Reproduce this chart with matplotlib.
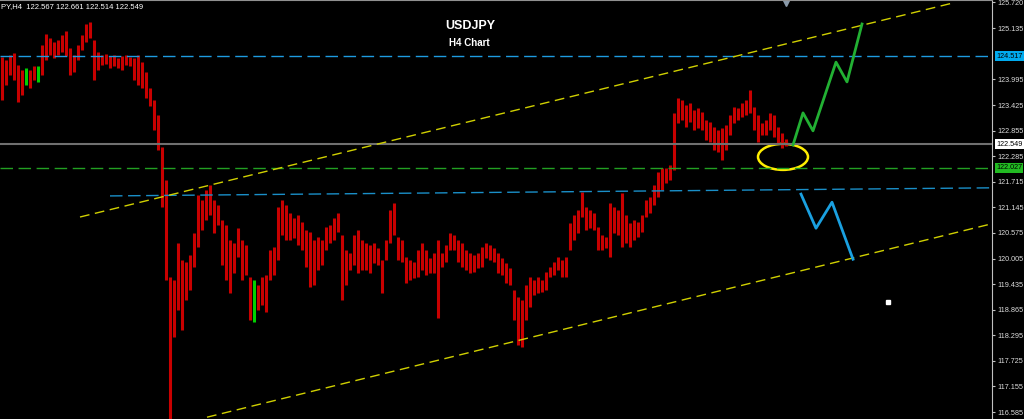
import matplotlib.pyplot as plt
import numpy as np
from matplotlib.patches import Ellipse
import matplotlib.transforms as mtransforms

# H4 bars, highs and lows
highs = [124.49, 124.43, 124.54, 124.58, 124.32, 124.21, 124.25, 124.21, 124.29, 124.29,
         124.76, 125.01, 124.92, 124.83, 124.87, 124.99, 125.07, 124.70, 124.54, 124.76,
         124.99, 125.23, 125.27, 124.87, 124.61, 124.54, 124.56, 124.52, 124.54, 124.47,
         124.52, 124.54, 124.49, 124.47, 124.54, 124.38, 124.16, 123.80, 123.54, 123.20,
         122.49, 121.76, 119.59, 119.53, 120.35, 119.97, 119.93, 120.08, 120.58, 121.42,
         121.31, 121.53, 121.64, 121.31, 121.20, 120.86, 120.75, 120.42, 120.35, 120.68,
         120.42, 120.31, 119.59, 119.53, 119.42, 119.59, 119.64, 120.20, 120.26, 121.15,
         121.31, 121.20, 121.02, 120.91, 120.97, 120.82, 120.64, 120.60, 120.42, 120.48,
         120.42, 120.71, 120.75, 120.91, 121.02, 120.53, 120.20, 120.13, 120.53, 120.64,
         120.42, 120.35, 120.31, 120.35, 120.24, 119.97, 120.42, 121.09, 121.24, 120.48,
         120.42, 120.04, 119.97, 119.93, 120.20, 120.35, 120.20, 120.02, 120.13, 120.42,
         120.13, 120.31, 120.58, 120.53, 120.42, 120.35, 120.20, 120.13, 120.08, 120.13,
         120.26, 120.35, 120.31, 120.24, 120.13, 120.02, 119.91, 119.79, 119.30, 119.15,
         119.08, 119.42, 119.59, 119.53, 119.59, 119.53, 119.71, 119.82, 119.93, 120.04,
         119.97, 120.04, 120.80, 120.97, 121.09, 121.49, 121.15, 121.09, 121.02, 120.71,
         120.53, 120.48, 121.24, 121.15, 121.09, 121.47, 120.97, 120.80, 120.86, 120.82,
         120.97, 121.31, 121.38, 121.64, 121.93, 122.02, 122.02, 122.09, 123.25, 123.58,
         123.54, 123.43, 123.47, 123.32, 123.36, 123.27, 123.09, 123.05, 122.94, 122.87,
         122.91, 122.98, 123.20, 123.38, 123.36, 123.47, 123.54, 123.76, 123.38, 123.20,
         123.02, 123.09, 123.25, 123.20, 122.94, 122.80, 122.661]
lows = [123.54, 123.87, 124.09, 123.98, 123.49, 123.65, 123.87, 123.80, 123.98, 123.94,
        124.09, 124.43, 124.54, 124.47, 124.54, 124.61, 124.52, 124.09, 124.16, 124.43,
        124.65, 124.83, 124.92, 123.98, 124.21, 124.32, 124.34, 124.25, 124.29, 124.25,
        124.21, 124.32, 124.29, 123.98, 123.87, 123.80, 123.58, 123.40, 122.87, 122.42,
        121.15, 119.53, 116.10, 118.26, 118.86, 118.41, 119.08, 119.30, 119.82, 120.26,
        120.64, 120.86, 120.97, 120.58, 120.75, 119.86, 119.53, 119.24, 119.68, 120.04,
        119.53, 119.64, 118.64, 118.59, 118.86, 118.97, 118.81, 119.53, 119.64, 119.97,
        120.53, 120.42, 120.42, 120.46, 120.31, 120.20, 119.82, 119.37, 119.42, 119.75,
        119.86, 120.20, 120.35, 120.42, 120.60, 119.08, 119.42, 119.75, 119.86, 119.68,
        119.75, 119.75, 119.68, 119.91, 119.86, 119.24, 119.97, 120.35, 120.53, 119.97,
        119.93, 119.46, 119.53, 119.57, 119.59, 119.75, 119.64, 119.68, 119.68, 118.68,
        119.82, 119.93, 120.20, 120.20, 119.93, 119.82, 119.75, 119.68, 119.71, 119.79,
        119.82, 120.02, 119.97, 119.93, 119.68, 119.64, 119.46, 119.42, 118.64, 118.08,
        118.03, 118.64, 118.93, 119.19, 119.24, 119.26, 119.30, 119.59, 119.64, 119.75,
        119.59, 119.59, 120.20, 120.42, 120.58, 120.93, 120.64, 120.68, 120.64, 120.20,
        120.20, 120.24, 120.04, 120.58, 120.53, 120.26, 120.35, 120.26, 120.42, 120.48,
        120.60, 120.93, 121.02, 121.20, 121.38, 121.53, 121.69, 121.76, 121.98, 123.02,
        123.09, 122.94, 123.05, 122.87, 122.91, 122.87, 122.65, 122.60, 122.42, 122.38,
        122.20, 122.42, 122.76, 123.02, 123.09, 123.16, 123.20, 123.25, 122.87, 122.60,
        122.76, 122.76, 122.87, 122.71, 122.58, 122.47, 122.514]
green_bars = [6, 9, 63]

last_price = 122.549
resist = 124.517
support = 122.027

# trend lines (bar index, price)
chan_up_x = [19.5, 238.25]
chan_up_y = [120.93, 125.71]
chan_lo_x = [51.25, 247]
chan_lo_y = [116.47, 120.77]
blue_x = [27, 247]
blue_y = [121.40, 121.58]

# projected paths
up_x = [197.75, 200.25, 202.75, 208.5, 211.25, 215]
up_y = [122.535, 123.25, 122.85, 124.38, 123.94, 125.23]
down_x = [199.75, 203.5, 207.5, 212.75]
down_y = [121.44, 120.68, 121.26, 119.99]

ticks = [116.585, 117.155, 117.725, 118.295, 118.865, 119.435, 120.005, 120.575,
         121.145, 121.715, 122.285, 122.855, 123.425, 123.995, 125.135, 125.720]

fnt = 'Liberation Sans'

fig = plt.figure(figsize=(10.24, 4.19), dpi=100, facecolor='black')
ax = fig.add_axes([0, 0, 992/1024, 1])
ax.set_facecolor('black')

idx = np.arange(len(highs))
cols = ['#00d000' if i in green_bars else '#c80000' for i in idx]
ax.vlines(idx, lows, highs, colors=cols, lw=2.2)

ax.axhline(last_price, color='#707070', lw=1.5)
ax.axhline(resist, color='#1e9be0', lw=1, dashes=(9, 4))
ax.axhline(support, color='#22a022', lw=1, dashes=(9, 4))
ax.plot(blue_x, blue_y, color='#1a8fc8', lw=1, dashes=(9, 4))
ax.plot(chan_up_x, chan_up_y, color='#d0d000', lw=1, dashes=(7, 4))
ax.plot(chan_lo_x, chan_lo_y, color='#d0d000', lw=1, dashes=(7, 4))

ax.plot(up_x, up_y, color='#22b033', lw=2)
ax.plot(down_x, down_y, color='#1aa0e0', lw=2)
ax.add_patch(Ellipse((195.25, 122.27), 12.5, 0.58, fill=False, ec='#ffee00', lw=1.8))

ax.plot([221.5], [119.04], 's', color='white', ms=2.5)
ax.plot([196], [125.72], 'v', color='#8a9aaa', ms=6, clip_on=False)

ax.set_xlim(-0.5, 247.5)
ax.set_ylim(116.43, 125.765)
ax.set_xticks([])
ax.yaxis.tick_right()
ax.set_yticks(ticks)
ax.set_yticklabels(['%.3f' % t for t in ticks], family=fnt)
ax.tick_params(axis='y', direction='out', length=2.5, color='#c0c0c0',
               labelcolor='#dddddd', labelsize=5.2, pad=1.2)
for s in ['left', 'bottom']:
    ax.spines[s].set_visible(False)
ax.spines['right'].set_color('#c0c0c0')
ax.spines['top'].set_color('#909090')

trans = mtransforms.blended_transform_factory(ax.transAxes, ax.transData)
for val, bg in [(resist, '#00aaee'), (last_price, 'white'), (support, '#22bb22')]:
    ax.text(1.004, val, '%.3f' % val, transform=trans, fontsize=5.2, color='black',
            family=fnt, va='center', ha='left',
            bbox=dict(facecolor=bg, edgecolor='none', pad=1.0))

fig.text(0.001, 1 - 6.5/419, 'PY,H4  122.567 122.661 122.514 122.549', color='white',
         fontsize=5.5, family=fnt, va='center', ha='left')
fig.text(470/1024, 1 - 26/419, 'USDJPY', color='white', fontsize=9, fontweight='bold',
         family=fnt, ha='center', va='center')
fig.text(469/1024, 1 - 43/419, 'H4 Chart', color='white', fontsize=7, fontweight='bold',
         family=fnt, ha='center', va='center')

plt.savefig('out.png', dpi=100, facecolor='black')
